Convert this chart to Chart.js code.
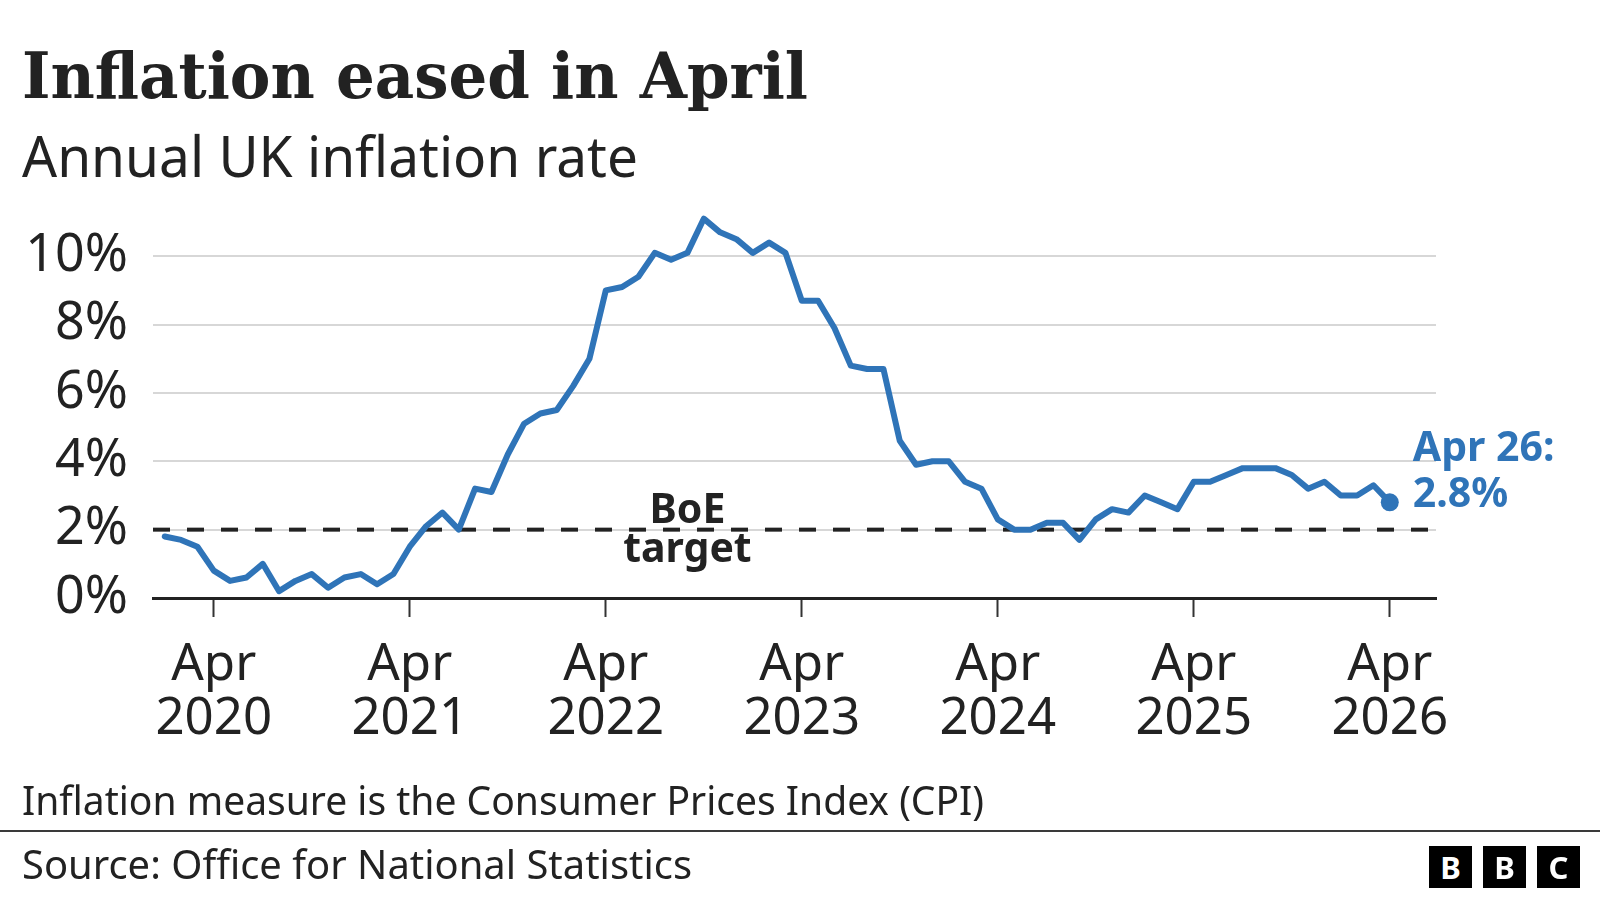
<!DOCTYPE html>
<html>
<head>
<meta charset="utf-8">
<title>Inflation eased in April</title>
<script src="https://cdn.jsdelivr.net/npm/chart.js@4.4.1/dist/chart.umd.min.js"></script>
<style>
  html, body { margin: 0; padding: 0; background: #fff; }
  #page { position: relative; width: 1600px; height: 900px; overflow: hidden; font-family: "Noto Sans", sans-serif; color: #222; }
  #page canvas { position: absolute; left: 0; top: 0; }
  .txt { position: absolute; left: 22px; top: 0; white-space: nowrap; line-height: 1; transform-origin: 0 0; }
  #title { font-family: "DejaVu Serif", serif; font-weight: bold; font-size: 64px; color: #222; }
  #subtitle { font-size: 57px; }
  #note, #source { font-size: 40px; }
  #rule { position: absolute; left: 0; top: 830px; width: 1600px; height: 2px; background: #3a3a3a; }
  .bbc { position: absolute; top: 846px; width: 43px; height: 42px; background: #000; color: #fff;
         font: bold 31px "Noto Sans", sans-serif; text-align: center; line-height: 42px; }
</style>
</head>
<body>
<div id="page">
  <canvas id="chart" width="1600" height="900"></canvas>
  <div id="title" class="txt">Inflation eased in April</div>
  <div id="subtitle" class="txt">Annual UK inflation rate</div>
  <div id="note" class="txt">Inflation measure is the Consumer Prices Index (CPI)</div>
  <div id="rule"></div>
  <div id="source" class="txt">Source: Office for National Statistics</div>
  <div class="bbc" style="left:1429px">B</div>
  <div class="bbc" style="left:1483px">B</div>
  <div class="bbc" style="left:1537px">C</div>
</div>
<script>
// monthly CPI, Jan 2020 - Apr 2026
const months = [
  'Jan 2020','Feb 2020','Mar 2020','Apr 2020','May 2020','Jun 2020','Jul 2020','Aug 2020','Sep 2020','Oct 2020','Nov 2020','Dec 2020',
  'Jan 2021','Feb 2021','Mar 2021','Apr 2021','May 2021','Jun 2021','Jul 2021','Aug 2021','Sep 2021','Oct 2021','Nov 2021','Dec 2021',
  'Jan 2022','Feb 2022','Mar 2022','Apr 2022','May 2022','Jun 2022','Jul 2022','Aug 2022','Sep 2022','Oct 2022','Nov 2022','Dec 2022',
  'Jan 2023','Feb 2023','Mar 2023','Apr 2023','May 2023','Jun 2023','Jul 2023','Aug 2023','Sep 2023','Oct 2023','Nov 2023','Dec 2023',
  'Jan 2024','Feb 2024','Mar 2024','Apr 2024','May 2024','Jun 2024','Jul 2024','Aug 2024','Sep 2024','Oct 2024','Nov 2024','Dec 2024',
  'Jan 2025','Feb 2025','Mar 2025','Apr 2025','May 2025','Jun 2025','Jul 2025','Aug 2025','Sep 2025','Oct 2025','Nov 2025','Dec 2025',
  'Jan 2026','Feb 2026','Mar 2026','Apr 2026'
];
const cpi = [
  1.8, 1.7, 1.5, 0.8, 0.5, 0.6, 1.0, 0.2, 0.5, 0.7, 0.3, 0.6,
  0.7, 0.4, 0.7, 1.5, 2.1, 2.5, 2.0, 3.2, 3.1, 4.2, 5.1, 5.4,
  5.5, 6.2, 7.0, 9.0, 9.1, 9.4, 10.1, 9.9, 10.1, 11.1, 10.7, 10.5,
  10.1, 10.4, 10.1, 8.7, 8.7, 7.9, 6.8, 6.7, 6.7, 4.6, 3.9, 4.0,
  4.0, 3.4, 3.2, 2.3, 2.0, 2.0, 2.2, 2.2, 1.7, 2.3, 2.6, 2.5,
  3.0, 2.8, 2.6, 3.4, 3.4, 3.6, 3.8, 3.8, 3.8, 3.6, 3.2, 3.4,
  3.0, 3.0, 3.3, 2.8
];
const boeTarget = 2;
const xTickMonths = ['Apr 2020', 'Apr 2021', 'Apr 2022', 'Apr 2023', 'Apr 2024', 'Apr 2025', 'Apr 2026'];
const yTicks = [0, 2, 4, 6, 8, 10];
const boeLabelMonth = 'Sep 2022';

const BLUE = '#2f74b8';
const X_MIN = -0.72, X_MAX = 77.83;

// last value label, e.g. "Apr 26:"
const lastMonth = months[months.length - 1].split(' ');
const latestTag = lastMonth[0] + ' ' + lastMonth[1].slice(2) + ':';

const annotations = {
  id: 'annotations',
  afterDatasetsDraw(chart) {
    const {ctx, scales: {x, y}} = chart;
    ctx.save();
    ctx.textBaseline = 'alphabetic';

    // BoE target label
    const bx = x.getPixelForValue(months.indexOf(boeLabelMonth));
    const by = y.getPixelForValue(boeTarget);
    ctx.fillStyle = '#222';
    ctx.textAlign = 'center';
    ctx.font = 'bold 41px "Noto Sans"';
    ctx.fillText('BoE', bx, by - 6.5);
    ctx.fillText('target', bx, by + 32.5);

    // latest value
    const last = cpi.length - 1;
    const lx = x.getPixelForValue(last), ly = y.getPixelForValue(cpi[last]);
    ctx.fillStyle = BLUE;
    ctx.textAlign = 'left';
    ctx.font = 'bold 41px "Noto Sans"';
    ctx.fillText(latestTag, lx + 23, ly - 41.5);
    ctx.fillText(cpi[last] + '%', lx + 23, ly + 4.5);
    ctx.restore();
  }
};

Chart.defaults.font.family = '"Noto Sans", sans-serif';

const chart = new Chart(document.getElementById('chart'), {
  type: 'line',
  data: {
    datasets: [
      {
        label: 'CPI',
        data: cpi.map((v, i) => ({x: i, y: v})),
        borderColor: BLUE,
        borderWidth: 6,
        borderJoinStyle: 'round',
        borderCapStyle: 'round',
        pointRadius: cpi.map((v, i) => i === cpi.length - 1 ? 9 : 0),
        pointBackgroundColor: BLUE,
        pointBorderWidth: 0,
        tension: 0,
        order: 0
      },
      {
        label: 'BoE target',
        data: [{x: X_MIN, y: boeTarget}, {x: X_MAX, y: boeTarget}],
        borderColor: '#222',
        borderWidth: 4,
        borderDash: [17, 17],
        pointRadius: 0,
        order: 1
      }
    ]
  },
  options: {
    responsive: false,
    animation: false,
    events: [],
    layout: {padding: {left: 0, right: 164, top: 205, bottom: 0}},
    plugins: {legend: {display: false}, tooltip: {enabled: false}},
    scales: {
      x: {
        type: 'linear',
        min: X_MIN,
        max: X_MAX,
        afterBuildTicks: s => { s.ticks = xTickMonths.map(m => ({value: months.indexOf(m)})); },
        afterFit: s => { s.height = 302; },
        ticks: {
          autoSkip: false,
          maxRotation: 0,
          padding: 21,
          color: '#222',
          font: {size: 51, lineHeight: 1.06},
          callback: v => months[v].split(' ')
        },
        grid: {drawOnChartArea: false, drawTicks: true, tickLength: 19, tickColor: '#333', tickWidth: 2, color: '#333'},
        border: {display: true, color: '#222', width: 3}
      },
      y: {
        min: 0,
        max: 11.5,
        afterBuildTicks: s => { s.ticks = yTicks.map(v => ({value: v})); },
        afterFit: s => { s.width = 153; },
        ticks: {
          padding: 25,
          color: '#222',
          font: {size: 52},
          callback: v => v + '%'
        },
        grid: {color: '#d7d7d7', lineWidth: 2, drawTicks: false},
        border: {display: false}
      }
    }
  },
  plugins: [annotations]
});

// put headline texts on their baselines and fit their widths
function place(id, baseline, right) {
  const el = document.getElementById(id);
  const probe = document.createElement('span');
  probe.style.cssText = 'display:inline-block;width:0;height:0;vertical-align:baseline';
  el.appendChild(probe);
  const pageTop = document.getElementById('page').getBoundingClientRect().top;
  const base = probe.getBoundingClientRect().top - pageTop;
  el.style.top = (baseline - base) + 'px';
  const w = el.getBoundingClientRect().width;
  el.style.transform = 'scaleX(' + ((right - 22) / w).toFixed(4) + ')';
}
function layoutText() {
  place('title', 97.5, 808);
  place('subtitle', 176.5, 638);
  place('note', 815, 984);
  place('source', 879, 692);
}
if (document.fonts && document.fonts.ready) document.fonts.ready.then(layoutText); else layoutText();
</script>
</body>
</html>
